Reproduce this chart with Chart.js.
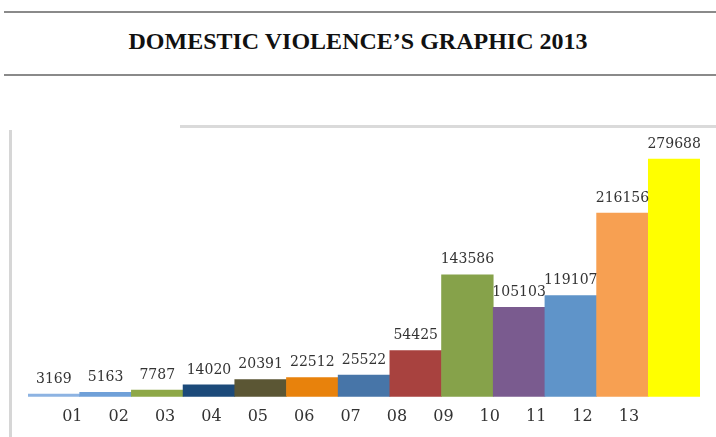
<!DOCTYPE html>
<html>
<head>
<meta charset="utf-8">
<script src="https://cdn.jsdelivr.net/npm/chart.js@4.4.0/dist/chart.umd.min.js"></script>
<style>
  body { margin: 0; background: #fff; width: 716px; height: 437px; overflow: hidden; position: relative; }
  .rule { position: absolute; left: 4px; right: 0; height: 2px; background: #8a8a8a; }
  #title { position: absolute; left: 0; width: 716px; top: 28px; text-align: center;
           font: bold 24px "Liberation Serif", serif; color: #111; }
  #topLine { position: absolute; left: 180px; right: 0; top: 125px; height: 3px; background: #dadada; }
  #leftLine { position: absolute; left: 9px; top: 130px; bottom: 0; width: 3px; background: #d6d6d6; }
  #wrap { position: absolute; left: 0; top: 130px; width: 716px; height: 307px; }
</style>
</head>
<body>
<div class="rule" style="top:11px"></div>
<div id="title">DOMESTIC VIOLENCE’S GRAPHIC 2013</div>
<div class="rule" style="top:74px"></div>
<div id="topLine"></div>
<div id="leftLine"></div>
<div id="wrap"><canvas id="chart"></canvas></div>
<script>
// Data
const labels = ['01', '02', '03', '04', '05', '06', '07', '08', '09', '10', '11', '12', '13'];
const cases = [3169, 5163, 7787, 14020, 20391, 22512, 25522, 54425, 143586, 105103, 119107, 216156, 279688];
const barColors = ['#8db3e2', '#6fa0d8', '#8ea847', '#1c4a7a', '#5b5634', '#e8820c', '#4775a8',
                   '#a8423f', '#86a24a', '#7a5b8f', '#5f94c9', '#f7a052', '#ffff00'];

// Value labels above each bar
const valueLabels = {
    id: 'valueLabels',
    afterDatasetsDraw(chart) {
        const ctx = chart.ctx;
        const meta = chart.getDatasetMeta(0);
        ctx.save();
        ctx.font = '14px "DejaVu Serif", serif';
        ctx.fillStyle = '#333';
        ctx.textAlign = 'center';
        ctx.textBaseline = 'middle';
        meta.data.forEach((bar, i) => {
            ctx.fillText(String(cases[i]), bar.x, bar.y - 15);
        });
        ctx.restore();
    }
};

new Chart(document.getElementById('chart'), {
    type: 'bar',
    data: {
        labels: labels,
        datasets: [{
            data: cases,
            backgroundColor: barColors,
            borderWidth: 0,
            categoryPercentage: 1.0,
            barPercentage: 1.0
        }]
    },
    options: {
        responsive: true,
        maintainAspectRatio: false,
        animation: false,
        layout: { padding: { left: 28, right: 16, top: 0, bottom: 1 } },
        plugins: { legend: { display: false }, tooltip: { enabled: false } },
        scales: {
            x: { display: false },
            // tick row under the bars, spaced a little tighter than the bars as in the picture
            x2: {
                type: 'linear',
                position: 'bottom',
                min: -0.398,
                max: 12.975,
                afterBuildTicks: scale => { scale.ticks = labels.map((l, i) => ({ value: i })); },
                grid: { display: false, drawTicks: false },
                border: { display: false },
                ticks: {
                    autoSkip: false,
                    maxRotation: 0,
                    padding: 10,
                    color: '#333',
                    font: { family: 'DejaVu Serif', size: 16 },
                    callback: v => labels[v]
                }
            },
            y: { display: false, min: 0, max: 313800 }
        }
    },
    plugins: [valueLabels]
});
</script>
</body>
</html>
